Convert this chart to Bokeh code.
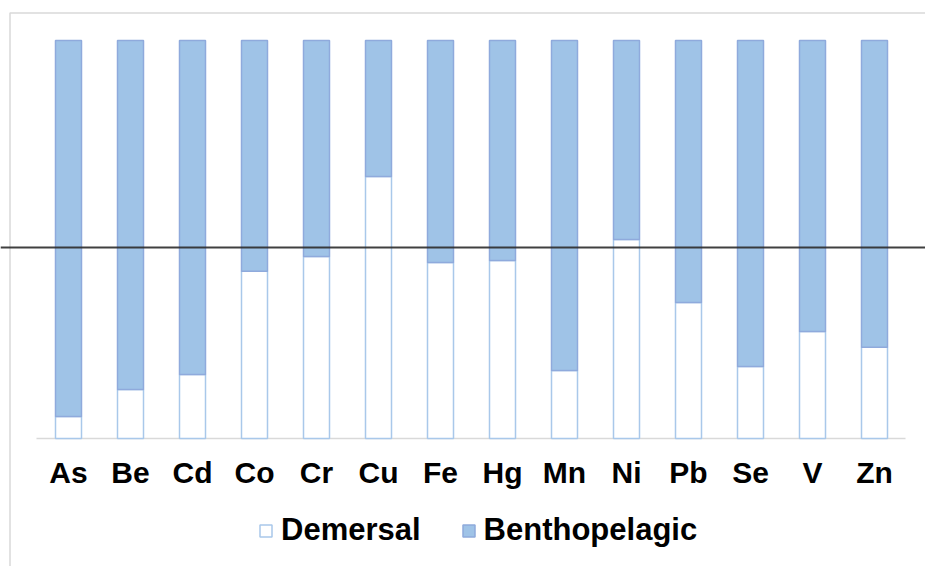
from bokeh.plotting import figure
from bokeh.models import Range1d, Span, Legend, LegendItem, ColumnDataSource
from bokeh.core.properties import value
from bokeh.embed import file_html
from bokeh.resources import INLINE

# Share of each metal found in demersal vs benthopelagic species (fractions of 1)
metals = ["As", "Be", "Cd", "Co", "Cr", "Cu", "Fe", "Hg", "Mn", "Ni", "Pb", "Se", "V", "Zn"]
demersal = [0.055, 0.123, 0.161, 0.420, 0.457, 0.658, 0.442, 0.447, 0.171, 0.500, 0.342, 0.181, 0.269, 0.229]
benthopelagic = [round(1 - d, 3) for d in demersal]
series_names = ["Demersal", "Benthopelagic"]
reference_level = 0.48

W, H = 925, 566
# pixel layout of the drawing area
x0_px, step_px = 68, 62          # centre of first category, distance between categories
base_px, top_px = 438, 40        # pixel rows of 0 and 1 on the value scale
unit_px = base_px - top_px


def sx(px):
    return (px - x0_px) / step_px


def sy(py):
    return (base_px - py) / unit_px


p = figure(width=W, height=H, output_backend="svg", toolbar_location=None,
           x_range=Range1d(sx(0), sx(W)), y_range=Range1d(sy(H), sy(0)),
           min_border=0, min_border_left=0, min_border_right=0,
           min_border_top=0, min_border_bottom=0)
p.axis.visible = False
p.grid.visible = False
p.outline_line_color = None
p.background_fill_color = "white"
p.border_fill_color = "white"

xs = list(range(len(metals)))
src = ColumnDataSource(dict(x=xs, demersal=demersal, benthopelagic=benthopelagic,
                            label=metals, ly=[sy(472)] * len(metals)))

# chart border
p.line([sx(9.5), sx(9.5), sx(W + 10)], [sy(H + 10), sy(12.5), sy(12.5)],
       line_color="#d9d9d9", line_width=1.5)

# category baseline
p.line([sx(36), sx(905)], [0, 0], line_color="#d9d9d9", line_width=1.5)

bar_w = 26 / step_px
r_dem = p.vbar(x="x", top="demersal", bottom=0, width=bar_w, source=src,
               fill_color="white", line_color="#a9c8ea", line_width=1.5)
r_ben = p.vbar(x="x", bottom="demersal", top=1, width=bar_w, source=src,
               fill_color="#9fc3e7", line_color="#8faadc", line_width=1.5)

# reference level across the chart
p.add_layout(Span(location=reference_level, dimension="width",
                  line_color="#2b2b2b", line_width=2, line_alpha=0.9))

# category labels
p.text(x="x", y="ly", text="label", source=src, text_align="center",
       text_baseline="middle", text_font=value("Liberation Sans"),
       text_font_style="bold", text_font_size="30px", text_color="black")

legend = Legend(items=[LegendItem(label=series_names[0], renderers=[r_dem]),
                       LegendItem(label=series_names[1], renderers=[r_ben])],
                orientation="horizontal", location=(258, 18),
                glyph_width=15, glyph_height=15, label_standoff=8, spacing=40,
                padding=0, margin=0, border_line_color=None,
                background_fill_alpha=0,
                label_text_font="Liberation Sans", label_text_font_style="bold",
                label_text_font_size="31px", label_text_color="black")
p.add_layout(legend)

open("out.html", "w").write(file_html(p, INLINE))
